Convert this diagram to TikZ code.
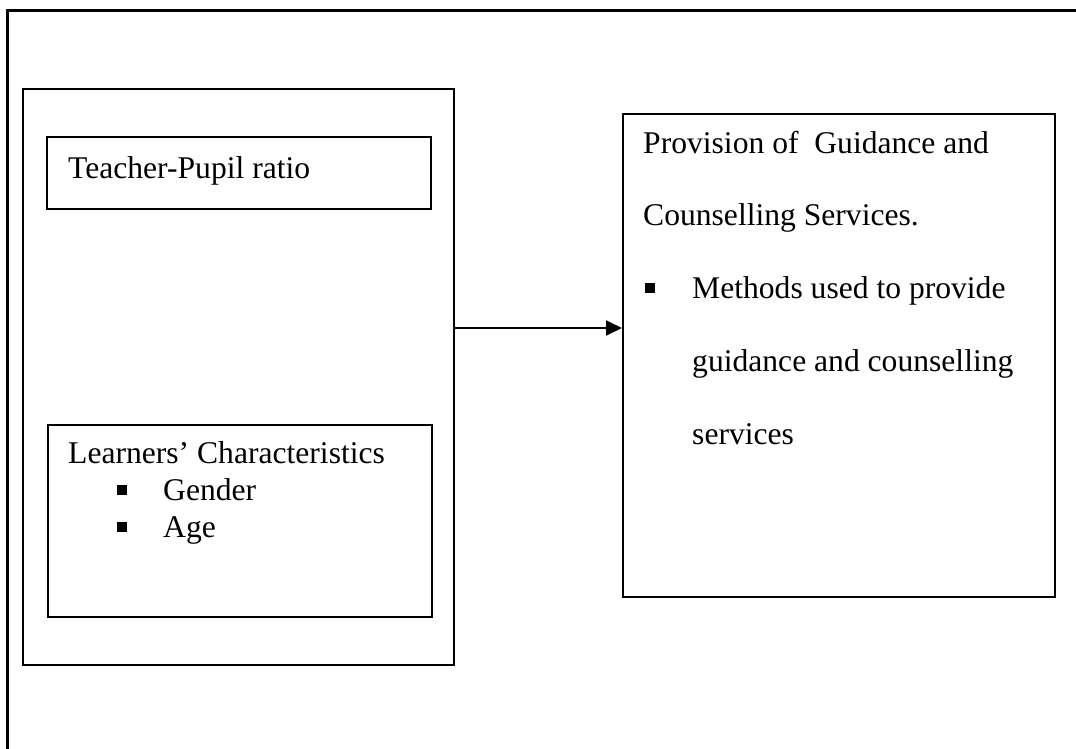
\documentclass[tikz,border=0pt]{standalone}
\usepackage{fontspec}
\setmainfont{Liberation Serif}
\usetikzlibrary{arrows.meta}
\begin{document}
\begin{tikzpicture}[x=1pt,y=-1pt,
  box/.style={draw=black,line width=2pt,inner sep=0pt,anchor=north west},
  txt/.style={anchor=base west,inner sep=0pt,font=\fontsize{31.6}{37}\selectfont},
  bul/.style={fill=black,inner sep=0pt,minimum size=10pt},
  conn/.style={line width=2pt,-{Triangle[length=16pt,width=15pt]}}]
\useasboundingbox (0,0) rectangle (1076,748);
% outer frame (only top and left visible)
\coordinate (ftl) at (7,10);
\coordinate (ftr) at (1080,10);
\coordinate (fbl) at (7,752);
\draw[line width=3pt] (fbl) -- (ftl) -- (ftr);
% left box
\node[box,minimum width=431pt,minimum height=576pt] (left) at (22,88) {};
\node[box,minimum width=384pt,minimum height=72pt] (tp) at (46,136) {};
\node[txt] (tptxt) at (68,178) {Teacher-Pupil ratio};
\node[box,minimum width=384pt,minimum height=192pt] (lc) at (47,424) {};
\node[txt] (lctxt) at (68,463) {Learners’ Characteristics};
\node[bul] (b1) at (122,490) {};
\node[txt] (g) at (163,500) {Gender};
\node[bul] (b2) at (122,527) {};
\node[txt] (a) at (163,537) {Age};
% right box
\node[box,minimum width=432pt,minimum height=483pt] (right) at (622,113) {};
\node[txt] (r1) at (643,153) {Provision of\ \ Guidance and};
\node[txt] (r2) at (643,225) {Counselling Services.};
\node[bul] (b3) at (650,288) {};
\node[txt] (r3) at (692,298) {Methods used to provide};
\node[txt] (r4) at (692,371) {guidance and counselling};
\node[txt] (r5) at (692,444) {services};
% arrow
\coordinate (ay) at (0,328);
\draw[conn] (left.east |- ay) -- (right.west |- ay);
\end{tikzpicture}
\end{document}
